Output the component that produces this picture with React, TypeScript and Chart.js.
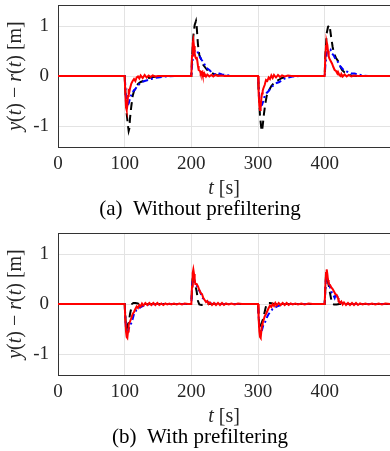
import React, { useEffect, useRef } from "react";
import { Chart, registerables } from "chart.js";
Chart.register(...registerables);

type P = [number, number];

const xTicks = [0, 100, 200, 300, 400];
const yTicks = [-1, 0, 1];
const xMin = 0;
const xMax = 498;
const yMin = -1.42;
const yMax = 1.42;

// (a) Without prefiltering
const blackA: P[] = [[0,0],[100,0],[101,-0.3],[103,-0.75],[105,-1.0],[106,-1.1],[107,-1.05],[108,-0.85],[110,-0.6],[112,-0.4],[114,-0.3],[117,-0.22],[120,-0.16],[124,-0.12],[128,-0.1],[132,-0.07],[136,-0.04],[142,-0.02],[150,-0.01],[160,0],[200,0],[201,0.35],[203,0.8],[205,1.02],[207,1.1],[208,1.0],[209,0.8],[210,0.62],[212,0.42],[215,0.32],[218,0.22],[222,0.15],[225,0.1],[228,0.08],[232,0.05],[238,0.02],[245,0.01],[255,0],[300,0],[301,-0.3],[303,-0.8],[305,-1.05],[306,-1.1],[307,-1.0],[309,-0.75],[311,-0.55],[313,-0.4],[316,-0.3],[320,-0.2],[324,-0.14],[328,-0.1],[332,-0.07],[336,-0.04],[342,-0.02],[350,0],[400,0],[401,0.4],[403,0.85],[405,0.98],[407,1.02],[408,0.95],[410,0.75],[412,0.58],[414,0.45],[417,0.36],[420,0.3],[423,0.2],[426,0.12],[430,0.07],[435,0.03],[440,0.01],[450,0],[498,0]];
const blueA: P[] = [[0,0],[100,0],[101,-0.2],[102,-0.45],[104,-0.6],[106,-0.55],[108,-0.45],[110,-0.38],[113,-0.3],[116,-0.26],[119,-0.2],[122,-0.16],[126,-0.12],[130,-0.1],[135,-0.08],[140,-0.06],[145,-0.04],[150,-0.03],[160,-0.01],[175,0],[200,0],[201,0.2],[203,0.45],[205,0.5],[207,0.48],[209,0.5],[211,0.42],[213,0.38],[215,0.33],[218,0.28],[221,0.2],[224,0.15],[227,0.12],[230,0.08],[234,0.04],[238,0.04],[242,0.05],[246,0.03],[252,0.02],[260,0],[300,0],[301,-0.2],[302,-0.45],[304,-0.6],[306,-0.58],[308,-0.5],[310,-0.4],[313,-0.34],[316,-0.3],[320,-0.22],[324,-0.18],[328,-0.14],[332,-0.12],[336,-0.08],[340,-0.05],[345,-0.03],[352,-0.01],[365,0],[400,0],[401,0.2],[403,0.45],[405,0.5],[407,0.48],[409,0.52],[411,0.45],[414,0.4],[417,0.32],[420,0.28],[423,0.2],[427,0.14],[431,0.1],[435,0.08],[440,0.05],[445,0.05],[450,0.03],[458,0.01],[465,0],[498,0]];
const redA: P[] = [[0,0],[100,0],[101,-0.35],[102,-0.62],[103,-0.68],[104,-0.6],[105,-0.4],[106,-0.3],[107,-0.32],[108,-0.25],[110,-0.15],[112,-0.1],[114,-0.06],[116,-0.1],[118,-0.03],[120,-0.01],[122,-0.05],[124,0.01],[127,-0.04],[130,0.02],[133,-0.03],[136,0.01],[139,-0.02],[142,0.01],[146,-0.01],[150,0],[200,0],[201,0.4],[202,0.65],[203,0.72],[204,0.6],[205,0.45],[206,0.38],[207,0.35],[208,0.38],[209,0.3],[210,0.2],[211,0.12],[213,0.1],[214,0.05],[216,0.08],[217,0.02],[219,0],[220,0.04],[222,-0.01],[224,0.03],[227,-0.01],[230,0.02],[233,-0.01],[236,0.02],[240,0],[245,0.01],[250,0],[300,0],[301,-0.35],[302,-0.6],[303,-0.68],[304,-0.62],[305,-0.45],[306,-0.35],[307,-0.3],[308,-0.25],[310,-0.18],[312,-0.08],[314,-0.1],[316,-0.03],[318,-0.06],[320,0.01],[322,-0.04],[324,0.02],[327,-0.03],[330,0.02],[333,-0.02],[336,0.01],[340,-0.01],[345,0.01],[350,0],[400,0],[401,0.4],[402,0.6],[403,0.68],[404,0.62],[405,0.5],[406,0.4],[407,0.35],[409,0.3],[411,0.25],[413,0.18],[415,0.12],[417,0.1],[419,0.05],[420,0.08],[422,0.02],[424,0],[425,0.04],[427,-0.01],[430,0.03],[433,-0.01],[436,0.02],[440,-0.01],[444,0.01],[450,0],[498,0]];

// (b) With prefiltering
const blackB: P[] = [[0,0],[100,0],[101,-0.25],[102,-0.45],[103,-0.5],[104,-0.42],[105,-0.4],[106,-0.38],[108,-0.2],[110,-0.08],[111,0],[113,0.02],[116,0.02],[120,0.01],[125,0],[200,0],[201,0.3],[202,0.55],[203,0.6],[204,0.5],[206,0.38],[208,0.25],[210,0.06],[212,-0.01],[215,-0.02],[218,-0.01],[222,0],[300,0],[301,-0.25],[302,-0.45],[303,-0.5],[304,-0.45],[305,-0.4],[307,-0.32],[309,-0.22],[311,-0.1],[313,0],[315,0.02],[318,0.02],[322,0.01],[328,0],[400,0],[401,0.3],[402,0.55],[403,0.6],[404,0.5],[406,0.38],[408,0.22],[410,0.08],[412,0],[414,-0.01],[418,-0.01],[422,0],[498,0]];
const blueB: P[] = [[0,0],[100,0],[101,-0.25],[102,-0.5],[104,-0.6],[106,-0.5],[108,-0.42],[110,-0.38],[112,-0.3],[114,-0.2],[116,-0.15],[118,-0.12],[121,-0.1],[124,-0.06],[127,-0.04],[131,-0.02],[136,-0.01],[145,0],[200,0],[201,0.3],[202,0.5],[203,0.58],[205,0.45],[207,0.38],[209,0.35],[211,0.28],[213,0.25],[215,0.18],[217,0.12],[220,0.08],[223,0.05],[226,0.03],[230,0.01],[240,0],[300,0],[301,-0.25],[302,-0.5],[304,-0.58],[306,-0.52],[308,-0.42],[310,-0.38],[312,-0.32],[314,-0.25],[316,-0.2],[319,-0.15],[322,-0.1],[326,-0.07],[330,-0.04],[335,-0.02],[342,0],[400,0],[401,0.3],[402,0.5],[403,0.55],[405,0.45],[407,0.38],[409,0.3],[411,0.22],[413,0.18],[415,0.12],[417,0.2],[419,0.15],[421,0.06],[424,0.03],[428,0.01],[435,0],[498,0]];
const redB: P[] = [[0,0],[100,0],[101,-0.3],[102,-0.55],[103,-0.66],[104,-0.68],[105,-0.55],[106,-0.42],[107,-0.38],[108,-0.35],[110,-0.28],[112,-0.2],[114,-0.16],[116,-0.1],[118,-0.05],[120,-0.08],[122,-0.02],[124,-0.05],[126,0.01],[128,-0.03],[131,0.02],[134,-0.02],[137,0.02],[140,-0.02],[143,0.02],[146,-0.02],[149,0.02],[152,-0.02],[155,0.01],[158,-0.02],[161,0.01],[164,-0.01],[167,0.01],[170,-0.01],[174,0.01],[178,-0.01],[182,0.01],[186,-0.01],[190,0.01],[195,0],[200,0],[201,0.35],[202,0.62],[203,0.69],[204,0.6],[205,0.48],[206,0.4],[208,0.4],[210,0.35],[212,0.28],[214,0.22],[216,0.2],[218,0.12],[220,0.08],[222,0.04],[224,0.06],[226,0],[228,0.03],[231,-0.02],[234,0.02],[237,-0.02],[240,0.02],[243,-0.02],[246,0.02],[249,-0.02],[252,0.01],[256,-0.01],[260,0.01],[265,-0.01],[270,0.01],[276,0],[300,0],[301,-0.3],[302,-0.55],[303,-0.66],[304,-0.68],[305,-0.55],[306,-0.42],[307,-0.38],[308,-0.34],[310,-0.25],[312,-0.2],[314,-0.14],[316,-0.08],[318,-0.03],[320,-0.06],[322,0],[324,-0.04],[326,0.02],[328,-0.03],[331,0.02],[334,-0.02],[337,0.02],[340,-0.02],[343,0.02],[346,-0.02],[349,0.01],[352,-0.01],[356,0.01],[360,-0.01],[365,0.01],[370,-0.01],[376,0.01],[382,0],[400,0],[401,0.35],[402,0.62],[403,0.69],[404,0.6],[405,0.48],[406,0.4],[408,0.38],[410,0.33],[412,0.3],[414,0.25],[416,0.2],[418,0.18],[420,0.12],[421,0.05],[423,0.02],[425,0.05],[427,-0.01],[429,0.03],[432,-0.02],[435,0.02],[438,-0.02],[441,0.02],[444,-0.02],[447,0.02],[450,-0.02],[453,0.01],[457,-0.01],[461,0.01],[466,-0.01],[471,0.01],[476,-0.01],[481,0.01],[486,-0.01],[491,0.01],[498,0]];

const FONT = '"Liberation Serif", "Times New Roman", serif';

type Seg = { t: string; i?: boolean };

const yTitle: Seg[] = [
  { t: "y", i: true }, { t: "(" }, { t: "t", i: true }, { t: ")" },
  { t: " \u2212 " }, { t: "r", i: true }, { t: "(" }, { t: "t", i: true }, { t: ")" },
  { t: " [m]" },
];
const xTitle: Seg[] = [{ t: "t", i: true }, { t: " [s]" }];
const captionA: Seg[] = [{ t: "(a)\u2002Without prefiltering" }];
const captionB: Seg[] = [{ t: "(b)\u2002With prefiltering" }];

function drawRich(ctx: CanvasRenderingContext2D, segs: Seg[], x: number, y: number, size: number, rot: boolean, color: string) {
  ctx.save();
  ctx.translate(x, y);
  if (rot) ctx.rotate(-Math.PI / 2);
  ctx.textBaseline = "middle";
  ctx.textAlign = "left";
  ctx.fillStyle = color;
  const fontOf = (s: Seg) => `${s.i ? "italic " : ""}${size}px ${FONT}`;
  let total = 0;
  const ws = segs.map((s) => {
    ctx.font = fontOf(s);
    const w = ctx.measureText(s.t).width;
    total += w;
    return w;
  });
  let cx = -total / 2;
  segs.forEach((s, k) => {
    ctx.font = fontOf(s);
    ctx.fillText(s.t, cx, 0);
    cx += ws[k];
  });
  ctx.restore();
}

type SubProps = {
  black: P[]; blue: P[]; red: P[];
  caption: Seg[]; height: number; topPad: number; xAxisH: number;
  xTitleY: number; captionY: number;
};

function SubPlot(props: SubProps) {
  const ref = useRef<HTMLCanvasElement>(null);
  useEffect(() => {
    const canvas = ref.current!;
    const toXY = (p: P[]) => p.map(([x, y]) => ({ x, y }));
    const textPlugin = {
      id: "texts",
      afterDraw(chart: any) {
        const ctx = chart.ctx as CanvasRenderingContext2D;
        const a = chart.chartArea;
        ctx.save();
        ctx.strokeStyle = "#333333";
        ctx.lineWidth = 1;
        ctx.beginPath();
        ctx.moveTo(a.left, a.top + 0.5);
        ctx.lineTo(a.right, a.top + 0.5);
        ctx.stroke();
        ctx.restore();
        drawRich(ctx, yTitle, 16, (a.top + a.bottom) / 2, 20, true, "#262626");
        drawRich(ctx, xTitle, (a.left + a.right) / 2, props.xTitleY, 20, false, "#262626");
        drawRich(ctx, props.caption, 200, props.captionY, 21, false, "#000000");
      },
    };
    const chart = new Chart(canvas, {
      type: "line",
      data: {
        datasets: [
          { data: toXY(props.red), borderColor: "#ff0000", borderWidth: 2, pointRadius: 0, tension: 0 },
          { data: toXY(props.blue), borderColor: "#0000ff", borderWidth: 2, borderDash: [6, 3, 2, 3], pointRadius: 0, tension: 0 },
          { data: toXY(props.black), borderColor: "#000000", borderWidth: 2, borderDash: [8, 5], pointRadius: 0, tension: 0 },
        ],
      },
      options: {
        animation: false,
        responsive: false,
        devicePixelRatio: 1,
        parsing: false as any,
        layout: { padding: { top: props.topPad, left: 0, right: 0, bottom: 0 } },
        plugins: { legend: { display: false }, tooltip: { enabled: false } },
        scales: {
          x: {
            type: "linear",
            min: xMin,
            max: xMax,
            afterBuildTicks: (s: any) => { s.ticks = xTicks.map((v) => ({ value: v })); },
            afterFit: (s: any) => { s.height = props.xAxisH; s.paddingLeft = 0; s.paddingRight = 0; s.paddingTop = 0; s.paddingBottom = 0; },
            grid: { color: "#e3e3e3", lineWidth: 1, drawTicks: false },
            border: { display: true, color: "#333333", width: 1 },
            ticks: { color: "#262626", font: { family: FONT, size: 19 }, padding: 6, maxRotation: 0, autoSkip: false },
          },
          y: {
            type: "linear",
            min: yMin,
            max: yMax,
            afterBuildTicks: (s: any) => { s.ticks = yTicks.map((v) => ({ value: v })); },
            afterFit: (s: any) => { s.width = 58; s.paddingTop = 0; s.paddingBottom = 0; s.paddingLeft = 0; s.paddingRight = 0; },
            grid: { color: "#e3e3e3", lineWidth: 1, drawTicks: false },
            border: { display: true, color: "#333333", width: 1 },
            ticks: { color: "#262626", font: { family: FONT, size: 19 }, padding: 9, callback: (v: any) => String(v) },
          },
        },
      },
      plugins: [textPlugin],
    } as any);
    return () => chart.destroy();
  }, []);
  return <canvas ref={ref} width={390} height={props.height} style={{ display: "block", width: 390, height: props.height }} />;
}

export default function App() {
  return (
    <div style={{ position: "absolute", left: 0, top: 0, width: 390, height: 451, background: "#fff" }}>
      <SubPlot black={blackA} blue={blueA} red={redA} caption={captionA} height={225} topPad={5} xAxisH={78} xTitleY={189} captionY={209} />
      <SubPlot black={blackB} blue={blueB} red={redB} caption={captionB} height={226} topPad={8} xAxisH={76} xTitleY={192} captionY={212} />
    </div>
  );
}
